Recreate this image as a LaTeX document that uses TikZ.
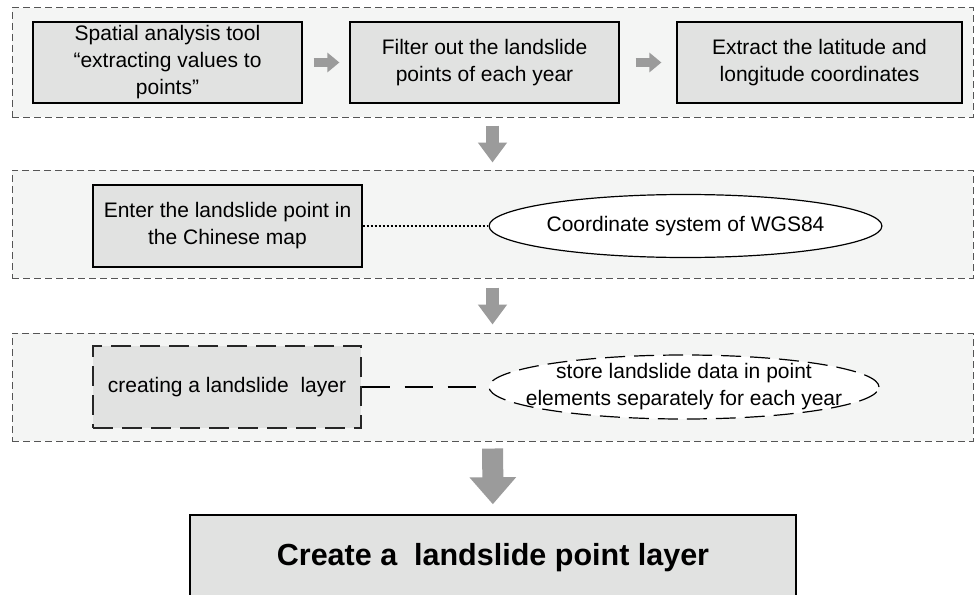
\documentclass[tikz,border=0pt]{standalone}
\usepackage{fontspec}
\setmainfont{Liberation Sans}
\usepackage{tikz}
\usetikzlibrary{shapes.geometric, arrows.meta}
\definecolor{panelfill}{RGB}{244,245,244}
\definecolor{boxfill}{RGB}{225,226,225}
\definecolor{panelline}{RGB}{85,85,85}
\definecolor{arrowgray}{RGB}{155,155,155}
\tikzstyle{panel} = [rectangle, draw=panelline, fill=panelfill, line width=1pt, dash pattern=on 7pt off 4pt, minimum width=961pt, minimum height=108pt]
\tikzstyle{block} = [rectangle, draw=black, fill=boxfill, line width=1.2pt, minimum width=269pt, minimum height=81pt, align=center, font=\fontsize{21pt}{27pt}\selectfont]
\tikzstyle{dashblock} = [block, draw=black!85, dash pattern=on 20pt off 9pt]
\tikzstyle{oval} = [ellipse, draw=black, fill=white, line width=1.2pt, inner sep=0pt, align=center, font=\fontsize{21pt}{27pt}\selectfont]
\tikzstyle{smallarrow} = [arrowgray, line width=9pt, -{Triangle[width=19pt,length=12pt]}]
\tikzstyle{bigarrow} = [arrowgray, line width=13pt, -{Triangle[width=28pt,length=20pt]}]
\tikzstyle{hugearrow} = [arrowgray, line width=21pt, -{Triangle[width=45pt,length=27pt]}]

\begin{document}
\begin{tikzpicture}[x=1pt, y=-1pt]
\useasboundingbox[fill=white] (0,0) rectangle (976,594);
% Fasce tratteggiate
\node (stage1) [panel, minimum height=109pt] at (492.5,62.5) {};
\node (stage2) [panel] at (492.5,224) {};
\node (stage3) [panel] at (492.5,387) {};

% Prima fascia
\node (spatial) [block] at (167.5,62.5) {Spatial analysis tool\\“extracting values to\\points”};
\node (filter) [block] at (484.5,62.5) {Filter out the landslide\\points of each year};
\node (extract) [block, minimum width=285pt] at (819.5,62.5) {Extract the latitude and\\longitude coordinates};

% Seconda fascia
\node (enter) [block, minimum height=82pt] at (227.5,226) {Enter the landslide point in\\the Chinese map};
\node (wgs) [oval, minimum width=387pt, minimum height=63pt] at (685.5,226) {Coordinate system of WGS84};

% Terza fascia
\node (layer) [dashblock, minimum width=268pt, minimum height=82pt] at (227,387) {creating a landslide\ \ layer};
\node (store) [oval, dash pattern=on 20pt off 9pt, minimum width=390pt, minimum height=64pt,
  label={[align=center, font=\fontsize{21pt}{27pt}\selectfont]center:store landslide data in point\\elements separately for each year}] at (684,387) {};

% Risultato
\node (result) [block, line width=1.5pt, minimum width=606pt, minimum height=85pt, font=\bfseries\fontsize{30.5pt}{37pt}\selectfont] at (493,557.5) {Create a\ \ landslide point layer};

% Frecce e collegamenti
\draw [smallarrow, shorten <=11pt, shorten >=10pt] (spatial) -- (filter);
\draw [smallarrow, shorten <=16pt, shorten >=15pt] (filter) -- (extract);
\draw [bigarrow, shorten <=8pt, shorten >=7pt] (stage1) -- (stage2);
\draw [bigarrow, shorten <=9pt, shorten >=8pt] (stage2) -- (stage3);
\draw [hugearrow, shorten <=7pt, shorten >=10pt] (stage3) -- (result);
\draw [line width=1.4pt, dash pattern=on 2pt off 2pt] (enter) -- (wgs);
\draw [line width=1.5pt, dash pattern=on 28pt off 15pt] (layer) -- (store);
\end{tikzpicture}
\end{document}
